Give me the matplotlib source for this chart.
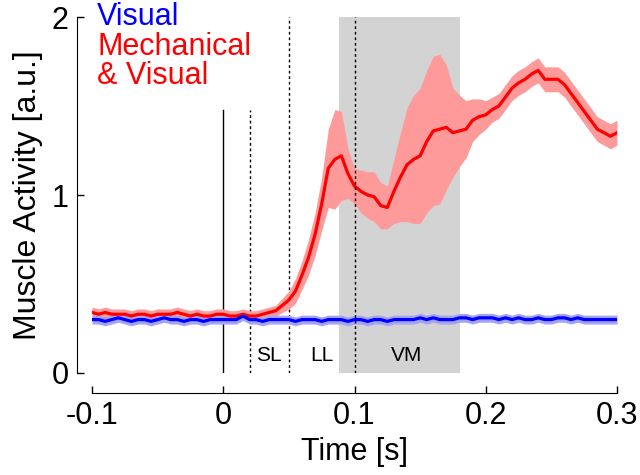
import matplotlib.pyplot as plt

plt.rcParams['font.family'] = ['Liberation Sans', 'DejaVu Sans']

# time axis in s, 5 ms steps from -0.1 to 0.3
time = [round(-0.1 + 0.005 * i, 3) for i in range(81)]

red_mean = [0.34, 0.33, 0.34, 0.33, 0.33, 0.33, 0.32, 0.33, 0.33, 0.32,
            0.33, 0.33, 0.33, 0.34, 0.33, 0.32, 0.33, 0.32, 0.32, 0.33,
            0.33, 0.32, 0.32, 0.33, 0.32, 0.32, 0.33, 0.34, 0.35, 0.38,
            0.41, 0.46, 0.55, 0.65, 0.78, 0.95, 1.15, 1.20, 1.22, 1.12,
            1.05, 1.02, 1.00, 0.99, 0.94, 0.93, 1.02, 1.10, 1.17, 1.20,
            1.22, 1.30, 1.36, 1.37, 1.38, 1.35, 1.36, 1.37, 1.42, 1.44,
            1.45, 1.48, 1.50, 1.55, 1.60, 1.63, 1.65, 1.68, 1.70, 1.65,
            1.65, 1.65, 1.62, 1.57, 1.52, 1.47, 1.42, 1.37, 1.35, 1.33,
            1.35]
red_sem = [0.03, 0.03, 0.03, 0.03, 0.03, 0.03, 0.03, 0.03, 0.03, 0.03,
           0.03, 0.03, 0.03, 0.03, 0.03, 0.03, 0.03, 0.03, 0.03, 0.03,
           0.03, 0.03, 0.03, 0.03, 0.03, 0.03, 0.03, 0.03, 0.03, 0.04,
           0.05, 0.07, 0.08, 0.10, 0.12, 0.15, 0.22, 0.28, 0.25, 0.14,
           0.10, 0.12, 0.13, 0.14, 0.13, 0.12, 0.18, 0.25, 0.32, 0.36,
           0.38, 0.40, 0.42, 0.42, 0.35, 0.25, 0.20, 0.16, 0.12, 0.10,
           0.08, 0.07, 0.07, 0.07, 0.07, 0.07, 0.07, 0.07, 0.07, 0.07,
           0.07, 0.07, 0.07, 0.07, 0.07, 0.07, 0.07, 0.07, 0.07, 0.07,
           0.07]
blue_mean = [0.30, 0.30, 0.29, 0.30, 0.31, 0.30, 0.29, 0.30, 0.30, 0.29,
             0.30, 0.31, 0.30, 0.30, 0.29, 0.30, 0.30, 0.29, 0.30, 0.30,
             0.30, 0.30, 0.30, 0.32, 0.30, 0.30, 0.29, 0.30, 0.30, 0.30,
             0.30, 0.29, 0.30, 0.30, 0.30, 0.29, 0.30, 0.30, 0.30, 0.29,
             0.30, 0.30, 0.29, 0.30, 0.30, 0.29, 0.30, 0.30, 0.30, 0.30,
             0.31, 0.30, 0.31, 0.30, 0.30, 0.30, 0.31, 0.31, 0.30, 0.31,
             0.31, 0.31, 0.30, 0.31, 0.30, 0.31, 0.30, 0.30, 0.31, 0.30,
             0.30, 0.31, 0.31, 0.30, 0.31, 0.30, 0.30, 0.30, 0.30, 0.30,
             0.30]
blue_sem = 0.025

# epochs (s)
vm_window = (0.088, 0.18)
epoch_lines = [0.02, 0.05, 0.1]
epoch_names = ['SL', 'LL', 'VM']
epoch_label_x = [0.035, 0.075, 0.14]

fig = plt.figure(figsize=(6.4, 4.75), dpi=100)
ax = fig.add_axes([92 / 640, 1 - 373 / 475, 525 / 640, 356 / 475])

ax.axvspan(vm_window[0], vm_window[1], ymin=0, ymax=1, color='#d3d3d3', lw=0, zorder=0)

ax.plot([0, 0], [0, 1.48], color='k', lw=1, zorder=1)
ax.plot([epoch_lines[0]] * 2, [0, 1.48], color='k', lw=1, ls=(0, (2, 2)), zorder=1)
ax.plot([epoch_lines[1]] * 2, [0, 2], color='k', lw=1, ls=(0, (2, 2)), zorder=1)
ax.plot([epoch_lines[2]] * 2, [0, 2], color='k', lw=1, ls=(0, (2, 2)), zorder=4)

red_lo = [m - s for m, s in zip(red_mean, red_sem)]
red_hi = [m + s for m, s in zip(red_mean, red_sem)]
ax.fill_between(time, red_lo, red_hi, color='#ff9a9a', lw=0, zorder=2)
ax.plot(time, red_mean, color='#ff0000', lw=2.3, zorder=3)

blue_lo = [m - blue_sem for m in blue_mean]
blue_hi = [m + blue_sem for m in blue_mean]
ax.fill_between(time, blue_lo, blue_hi, color='#a3a3ff', lw=0, zorder=2)
ax.plot(time, blue_mean, color='#0000ff', lw=2.3, zorder=3)

for name, x in zip(epoch_names, epoch_label_x):
    ax.text(x, 0.1, name, fontsize=15, ha='center', va='center')

ax.text(-0.096, 2.0, 'Visual', color='#0000ff', fontsize=22, va='center')
ax.text(-0.096, 1.83, 'Mechanical', color='#ff0000', fontsize=22, va='center')
ax.text(-0.096, 1.67, '& Visual', color='#ff0000', fontsize=22, va='center')

ax.set_xlim(-0.1, 0.3)
ax.set_ylim(0, 2)
ax.set_xticks([-0.1, 0, 0.1, 0.2, 0.3])
ax.set_xticklabels(['-0.1', '0', '0.1', '0.2', '0.3'])
ax.set_yticks([0, 1, 2])
ax.spines['top'].set_visible(False)
ax.spines['right'].set_visible(False)
ax.spines['left'].set_position(('outward', 10.8))
ax.spines['bottom'].set_position(('outward', 14.4))
ax.tick_params(direction='in', length=5, labelsize=22, width=1, pad=6)
ax.set_xlabel('Time [s]', fontsize=22, labelpad=4)
ax.set_ylabel('Muscle Activity [a.u.]', fontsize=23, labelpad=6)
ax.patch.set_visible(False)

fig.savefig('out.png', dpi=100)
